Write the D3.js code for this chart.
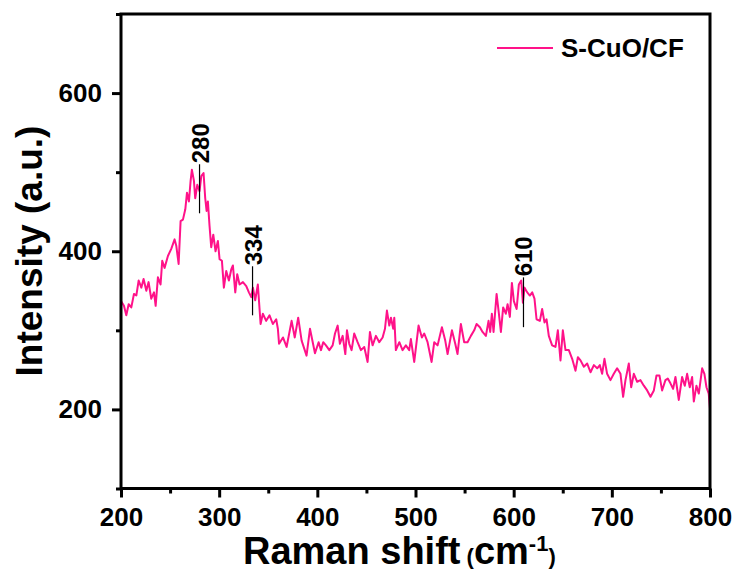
<!DOCTYPE html>
<html>
<head>
<meta charset="utf-8">
<script src="https://cdn.jsdelivr.net/npm/d3@7"></script>
<style>
  body { margin: 0; background: #fff; }
  svg { display: block; font-family: "Liberation Sans", Arial, sans-serif; font-weight: bold; }
</style>
</head>
<body>
<svg width="737" height="572"></svg>
<script>
const W = 737, H = 572;
const margin = {left: 121, top: 14, right: 27, bottom: 83.5};

const shift = [200,203,205.4,207.8,210.5,213.2,215.6,218,220.7,223,225.8,228.1,230.8,233.6,235.3,237.6,240.3,242,
  244.4,247.8,251.2,254.6,256.3,258.7,260.7,263.1,265.5,267.2,269.2,270.9,272.2,274.3,275.6,277.7,280,281.8,284.1,
  285.8,287.2,288.5,290.2,291.9,294,296.3,298.7,300.4,302.8,304.8,307.2,309.9,312.3,314,316.4,318.4,320.8,324.2,
  327.6,330.3,332.7,334.4,336.7,339.4,342.2,344.5,347.9,351.3,354.7,358.1,359.8,361,365,368.7,373.8,377,380.5,384,
  389,392.5,397.6,
  401.3,403.7,406,408.8,412.2,415.6,418,420.7,423,425.8,428.5,430.2,432.5,434.9,437.6,441,444.4,447.8,451.2,453.6,
  456.3,459.7,463.1,466.5,468.9,470.9,473.3,475,477.3,478.4,480,483.5,486.8,490.2,493.6,495.3,498.7,501.1,503.1,
  506.5,508.9,512.3,516.4,519.1,522.5,526.9,530.3,532.7,537.1,540.5,542.8,546.2,549.6,553,556.4,559.8,562.2,565.6,
  568.3,571.7,574.4,576.1,577.8,579.5,582.6,584.6,587,589.3,592,593.8,596.1,598.2,
  600.2,603,605.3,607.7,609.4,611.1,613.8,616.5,618.9,621.2,623.3,626.7,629,631.4,633.5,635.8,639.2,642.6,645,
  647.7,650.1,652.8,656.2,659.6,663,665.4,668.1,671.5,674.9,678.3,681.7,685.1,687.8,690.1,692.5,695.2,698.6,702,
  705.4,708.8,711.5,713.9,717.3,719.7,722.4,725.8,729.2,732.6,736,739.4,742.8,745.5,748.5,751.2,754.6,757,759.7,
  762.4,764.8,768.2,771.6,774.3,776.7,779.4,781.8,783.5,786.2,788.6,792,794.3,796.4,798.7,800];
const intensity = [337,331,319,333,329,346,344,363,354,365,350,361,340,348,331,367,358,388,
  379,394,403,415,407,384,438,440,453,474,463,489,503,489,467,484,476,495,499,
  467,451,463,432,405,421,400,413,390,388,354,375,363,377,382,348,371,358,361,
  356,348,342,354,338,358,308,321,312,319,308,314,302,283,291,279,312,291,316,287,
  268,302,271,
  285,275,285,281,275,281,296,306,283,293,270,300,283,275,296,285,275,279,260,298,
  281,293,285,291,302,325,306,316,302,316,275,285,275,281,275,289,260,285,306,
  291,296,285,260,285,281,304,287,270,300,283,270,308,285,285,293,300,308,304,
  298,293,312,298,321,298,346,325,298,329,321,333,317,360,
  337,327,358,363,335,354,348,344,348,340,314,312,327,310,314,293,281,279,300,
  262,300,275,275,264,249,266,262,254,258,247,256,252,256,245,264,245,237,245,
  252,245,216,237,258,228,245,235,237,230,224,216,224,243,243,224,237,239,233,
  226,241,212,241,230,245,228,241,210,230,220,252,245,228,220,201];

const peakPos = [280, 334, 610];
const peakLabels = ["280", "334", "610"];
const peakTop = [510, 381, 367];
const peakBottom = [448, 319, 304];

const xTicks = [200, 300, 400, 500, 600, 700, 800];
const yTicks = [200, 400, 600];
const seriesName = "S-CuO/CF";
const lineColor = "#ff1289";

const svg = d3.select("svg");
const x = d3.scaleLinear().domain([200, 800]).range([margin.left, W - margin.right]);
const y = d3.scaleLinear().domain([100, 700]).range([H - margin.bottom, margin.top]);

// spectrum
const pts = shift.map((s, i) => [s, intensity[i]]);
svg.append("path")
   .datum(pts)
   .attr("d", d3.line().x(d => x(d[0])).y(d => y(d[1])))
   .style("fill", "none")
   .style("stroke", lineColor)
   .style("stroke-width", 2)
   .style("stroke-linejoin", "round");

// frame
svg.append("rect")
   .attr("x", x(200)).attr("y", y(700))
   .attr("width", x(800) - x(200)).attr("height", y(100) - y(700))
   .style("fill", "none").style("stroke", "#000").style("stroke-width", 3);

// minor ticks
const xMinor = d3.range(250, 800, 100);
const yMinor = [100, 300, 500, 700];

svg.append("g").attr("transform", `translate(0,${y(100)})`)
   .call(d3.axisBottom(x).tickValues(xTicks).tickSize(9).tickPadding(10).tickFormat(d3.format("d")));
svg.append("g").attr("transform", `translate(0,${y(100)})`)
   .call(d3.axisBottom(x).tickValues(xMinor).tickSize(5).tickFormat(""));
svg.append("g").attr("transform", `translate(${x(200)},0)`)
   .call(d3.axisLeft(y).tickValues(yTicks).tickSize(9).tickPadding(10).tickFormat(d3.format("d")));
svg.append("g").attr("transform", `translate(${x(200)},0)`)
   .call(d3.axisLeft(y).tickValues(yMinor).tickSize(5).tickFormat(""));

svg.selectAll(".domain").remove();
svg.selectAll(".tick line").style("stroke", "#000").style("stroke-width", 3);
svg.selectAll(".tick text")
   .style("font-size", "26px").style("font-weight", "bold")
   .style("font-family", '"Liberation Sans", Arial, sans-serif').style("fill", "#000");

// axis titles
svg.append("text")
   .attr("transform", "translate(42,251) rotate(-90)")
   .attr("text-anchor", "middle")
   .style("font-size", "37px")
   .text("Intensity (a.u.)");

const xt = svg.append("text").attr("x", 243).attr("y", 564).style("font-size", "38px");
xt.append("tspan").text("Raman shift");
xt.append("tspan").style("font-size", "22px").text(" (");
xt.append("tspan").text("cm");
xt.append("tspan").style("font-size", "22px").attr("dy", -13).text("-1");
xt.append("tspan").style("font-size", "22px").attr("dy", 13).text(")");

// peak markers
peakPos.forEach(function(p, i){
    svg.append("line")
       .attr("x1", x(p)).attr("x2", x(p))
       .attr("y1", y(peakTop[i])).attr("y2", y(peakBottom[i]))
       .style("stroke", "#000").style("stroke-width", 1.2);
    svg.append("text")
       .attr("transform", `translate(${x(p) + 9},${y(peakTop[i]) - 1}) rotate(-90)`)
       .style("font-size", "24px")
       .text(peakLabels[i]);
});

// legend
svg.append("line")
   .attr("x1", 497).attr("x2", 553).attr("y1", 48).attr("y2", 48)
   .style("stroke", lineColor).style("stroke-width", 2);
svg.append("text").attr("x", 561).attr("y", 57)
   .style("font-size", "26px").text(seriesName);
</script>
</body>
</html>
